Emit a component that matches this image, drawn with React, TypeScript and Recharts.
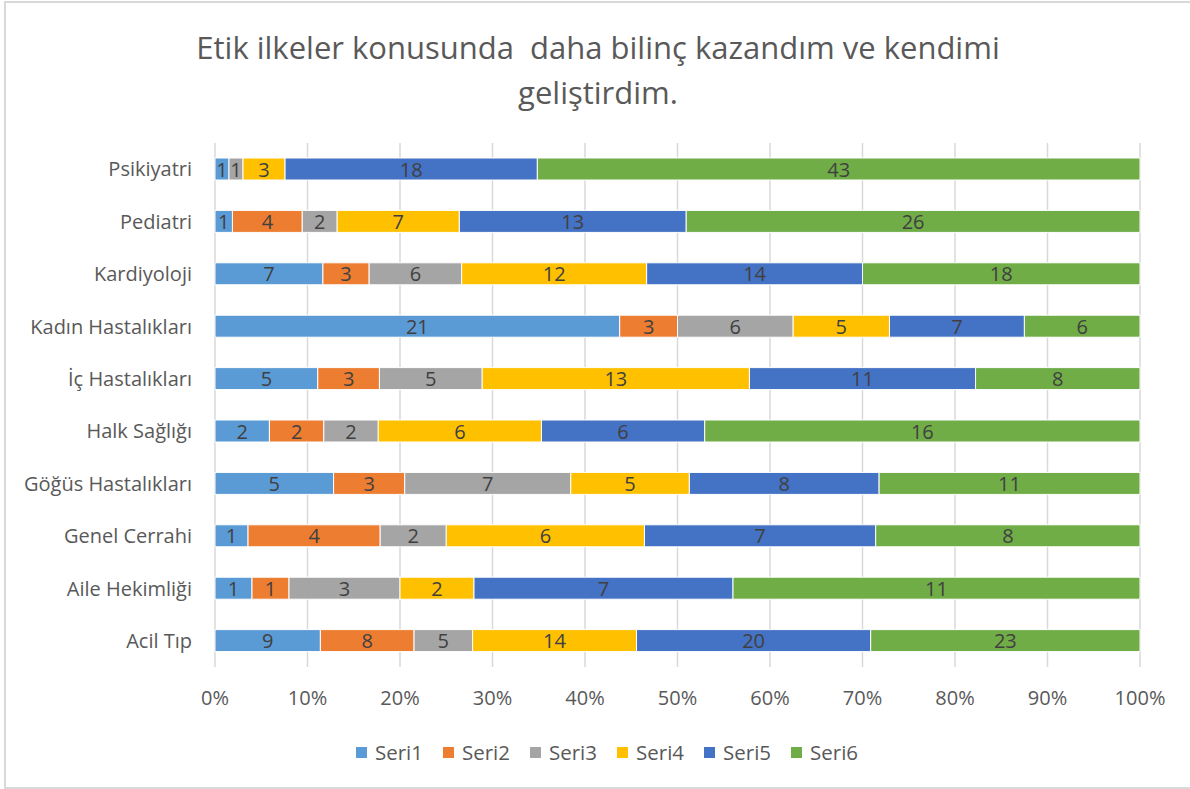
import { BarChart, Bar, XAxis, YAxis, CartesianGrid, Legend, LabelList } from 'recharts';

const categories = [
  'Psikiyatri',
  'Pediatri',
  'Kardiyoloji',
  'Kadın Hastalıkları',
  'İç Hastalıkları',
  'Halk Sağlığı',
  'Göğüs Hastalıkları',
  'Genel Cerrahi',
  'Aile Hekimliği',
  'Acil Tıp',
];
const seri1 = [1, 1, 7, 21, 5, 2, 5, 1, 1, 9];
const seri2 = [0, 4, 3, 3, 3, 2, 3, 4, 1, 8];
const seri3 = [1, 2, 6, 6, 5, 2, 7, 2, 3, 5];
const seri4 = [3, 7, 12, 5, 13, 6, 5, 6, 2, 14];
const seri5 = [18, 13, 14, 7, 11, 6, 8, 7, 7, 20];
const seri6 = [43, 26, 18, 6, 8, 16, 11, 8, 11, 23];
const percentTicks = [0, 0.1, 0.2, 0.3, 0.4, 0.5, 0.6, 0.7, 0.8, 0.9, 1];

const seriesNames = ['Seri1', 'Seri2', 'Seri3', 'Seri4', 'Seri5', 'Seri6'];
const COLORS = ['#5B9BD5', '#ED7D31', '#A5A5A5', '#FFC000', '#4472C4', '#70AD47'];

const data = categories.map((name, i) => ({
  name,
  Seri1: seri1[i],
  Seri2: seri2[i],
  Seri3: seri3[i],
  Seri4: seri4[i],
  Seri5: seri5[i],
  Seri6: seri6[i],
}));

const FONT = '"Open Sans", sans-serif';

function LegendContent() {
  return (
    <div
      style={{
        display: 'flex',
        justifyContent: 'center',
        paddingLeft: 74,
        fontFamily: FONT,
        fontSize: 20.5,
        color: '#595959',
      }}
    >
      {seriesNames.map((s, i) => (
        <div key={s} style={{ display: 'flex', alignItems: 'center', marginRight: i < 5 ? 20 : 0 }}>
          <span style={{ width: 11, height: 11, background: COLORS[i], display: 'inline-block', marginRight: 8 }} />
          <span>{s}</span>
        </div>
      ))}
    </div>
  );
}

// value in the middle of its segment
const renderValue = (props: any) => {
  const { x, y, width, height, value } = props;
  return (
    <text
      x={Number(x) + Number(width) / 2}
      y={Number(y) + Number(height) / 2}
      textAnchor="middle"
      dominantBaseline="central"
      fill="#404040"
      fontSize={20}
      fontFamily={FONT}
    >
      {value}
    </text>
  );
};

export default function App() {
  return (
    <div style={{ position: 'absolute', left: 0, top: 0, width: 1190, height: 789, background: '#fff' }}>
      <div
        style={{
          position: 'absolute',
          left: 4,
          top: 1,
          width: 1190,
          height: 784,
          border: '2px solid #D9D9D9',
        }}
      />
      <div
        style={{
          position: 'absolute',
          left: 0,
          top: 25,
          width: 1196,
          textAlign: 'center',
          fontFamily: FONT,
          fontSize: 31,
          lineHeight: '45px',
          color: '#595959',
        }}
      >
        Etik ilkeler konusunda&nbsp; daha bilinç kazandım ve kendimi
        <br />
        geliştirdim.
      </div>
      <div style={{ position: 'absolute', left: 0, top: 0 }}>
        <BarChart
          width={1190}
          height={789}
          data={data}
          layout="vertical"
          stackOffset="expand"
          barSize={22}
          margin={{ top: 143, right: 50, bottom: 25, left: 0 }}
          style={{ fontFamily: FONT }}
        >
          <CartesianGrid horizontal={false} stroke="#D9D9D9" strokeWidth={1.5} />
          <XAxis
            type="number"
            domain={[0, 1]}
            ticks={percentTicks}
            tickFormatter={(v: number) => `${Math.round(v * 100)}%`}
            axisLine={false}
            tickLine={false}
            tickSize={0}
            tickMargin={24}
            height={71}
            tick={{ fill: '#595959', fontSize: 20 }}
          />
          <YAxis
            type="category"
            dataKey="name"
            width={215}
            axisLine={false}
            tickLine={false}
            tickSize={0}
            tickMargin={23}
            tick={{ fill: '#595959', fontSize: 20 }}
          />
          <Legend verticalAlign="bottom" height={26} content={<LegendContent />} />
          {seriesNames.map((s, i) => (
            <Bar key={s} dataKey={s} stackId="a" fill={COLORS[i]} stroke="#fff" strokeWidth={1} isAnimationActive={false}>
              <LabelList dataKey={s} content={renderValue} />
            </Bar>
          ))}
        </BarChart>
      </div>
    </div>
  );
}
